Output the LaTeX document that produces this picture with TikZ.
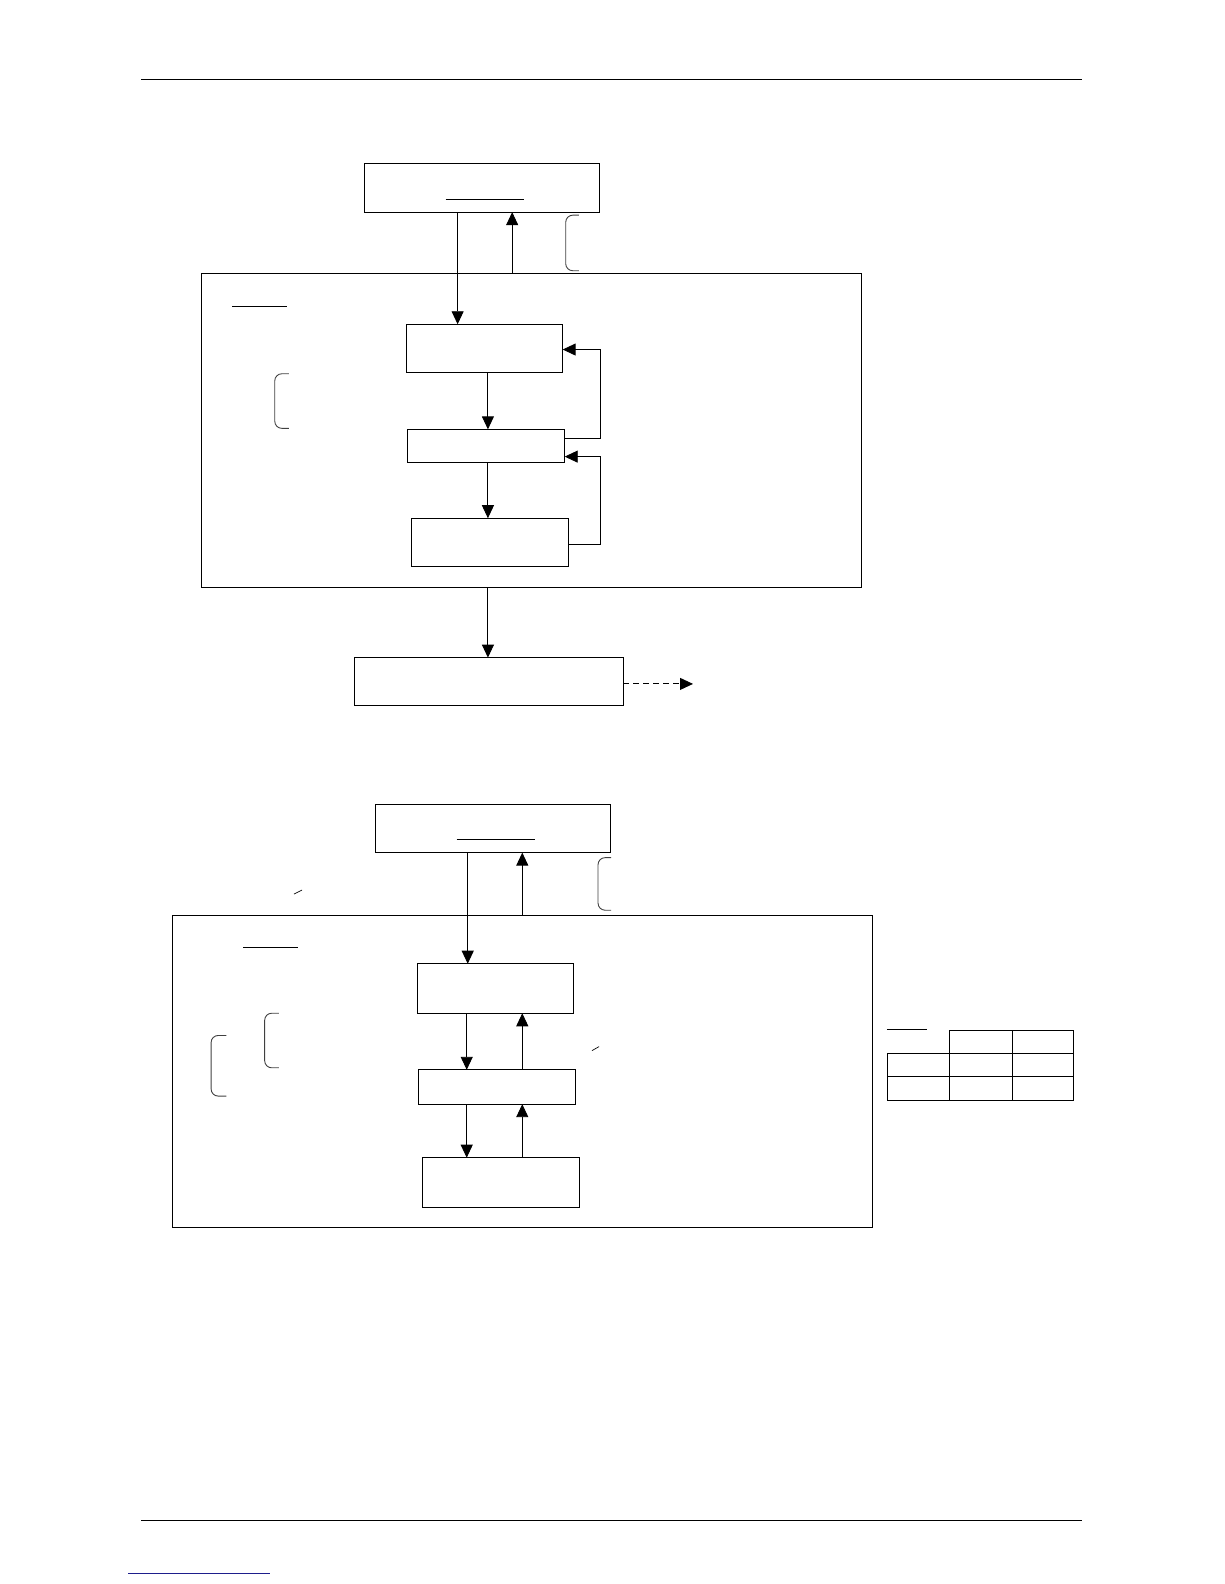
\documentclass[tikz,border=0pt]{standalone}
\usetikzlibrary{arrows.meta}
\begin{document}
\begin{tikzpicture}[x=1.0099pt,y=-1.0099pt,
  bx/.style 2 args={draw,line width=1pt,inner sep=0pt,outer sep=0pt,minimum width=#1*1.0099pt,minimum height=#2*1.0099pt},
  arr/.style={line width=0.9pt,-{Triangle[length=13pt,width=12pt]}},
  ln/.style={line width=0.9pt},
  brk/.style={line width=0.9pt,draw=black!75,rounded corners=7pt},
  rule/.style={line width=1.3pt}]
\useasboundingbox (0,0) rectangle (1212,1568);
% header / footer
\draw[rule] (140,79) -- (1071,79);
\draw[rule] (140,1505) -- (1071,1505);
\draw[line width=1pt,draw={rgb,255:red,30;green,30;blue,140}] (127,1558) -- (267,1558);

% ---------- top diagram ----------
\node[bx={654}{311}] (O1) at (526,426.5) {};
\node[bx={232}{48}] (A) at (477,186) {};
\node[bx={155}{48}] (B) at (479.5,345) {};
\node[bx={156}{33}] (C) at (481,441.5) {};
\node[bx={156}{48}] (D) at (485,537) {};
\node[bx={266}{47}] (E) at (484,674.5) {};
\draw[ln] (441,197) -- (519,197);
\draw[ln] (230,303) -- (284,303);
\coordinate (xa) at (453,0);
\coordinate (xb) at (507,0);
\coordinate (xc) at (483,0);
\coordinate (xr) at (594,0);
\draw[arr] (xa |- A.south) -- (xa |- B.north);
\draw[arr] (xb |- O1.north) -- (xb |- A.south);
\draw[arr] (xc |- B.south) -- (xc |- C.north);
\draw[arr] (xc |- C.south) -- (xc |- D.north);
\draw[arr] (xc |- O1.south) -- (xc |- E.north);
\coordinate (c1) at (0,434);
\coordinate (b1) at (0,346);
\coordinate (d1) at (0,539);
\coordinate (c2) at (0,452);
\draw[arr] (C.east |- c1) -- (xr |- c1) -- (xr |- b1) -- (B.east |- b1);
\draw[arr] (D.east |- d1) -- (xr |- d1) -- (xr |- c2) -- (C.east |- c2);
\coordinate (eo) at (686,677);
\draw[arr,dashed,dash pattern=on 6pt off 4pt] (E.east |- eo) -- (eo);
\draw[brk] (573,213) -- (560,213) -- (560,268) -- (573,268);
\draw[brk] (286,370) -- (272,370) -- (272,424) -- (286,424);

% ---------- bottom diagram ----------
\node[bx={693}{309}] (O2) at (517.5,1060.5) {};
\node[bx={232}{48}] (F) at (488,820) {};
\node[bx={155}{49}] (G) at (490.5,978.5) {};
\node[bx={156}{34}] (H) at (492,1076) {};
\node[bx={156}{49}] (I) at (496,1170.5) {};
\draw[line width=1.8pt] (452,831) -- (530,831);
\draw[ln] (241,938) -- (295,938);
\coordinate (xd) at (463,0);
\coordinate (xe) at (517,0);
\coordinate (xf) at (462,0);
\draw[arr] (xd |- F.south) -- (xd |- G.north);
\draw[arr] (xe |- O2.north) -- (xe |- F.south);
\draw[arr] (xf |- G.south) -- (xf |- H.north);
\draw[arr] (xe |- H.north) -- (xe |- G.south);
\draw[arr] (xf |- H.south) -- (xf |- I.north);
\draw[arr] (xe |- I.north) -- (xe |- H.south);
\draw[brk] (605,849) -- (592,849) -- (592,901) -- (605,901);
\draw[brk] (276,1003) -- (262,1003) -- (262,1057) -- (276,1057);
\draw[brk] (224,1025) -- (209,1025) -- (209,1085) -- (224,1085);
\draw[line width=0.7pt] (291,885) -- (299,881);
\draw[line width=0.7pt] (586,1040) -- (593,1036);

% table
\draw[ln] (878,1019) -- (918,1019);
\draw[ln] (940,1020) rectangle (1063,1089);
\draw[ln] (878,1043) rectangle (1063,1089);
\draw[ln] (878,1066) -- (1063,1066);
\draw[ln] (1002,1020) -- (1002,1089);
\end{tikzpicture}
\end{document}
